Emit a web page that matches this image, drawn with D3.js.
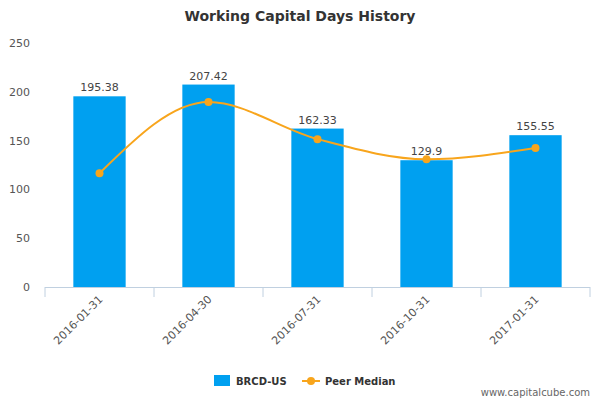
<!DOCTYPE html>
<html><head><meta charset="utf-8">
<script src="https://cdn.jsdelivr.net/npm/d3@7"></script>
<style>body{margin:0;background:#fff;font-family:"DejaVu Sans",sans-serif}</style>
</head><body>
<script>
const categories = ["2016-01-31", "2016-04-30", "2016-07-31", "2016-10-31", "2017-01-31"];
const companyValues = [195.38, 207.42, 162.33, 129.9, 155.55];
const peerMedian = [116.5, 189.5, 151.5, 131, 142.5];
const yTicks = [0, 50, 100, 150, 200, 250];

const width = 600, height = 400;
const svg = d3.select("body").append("svg").attr("width", width).attr("height", height);

const x = d3.scaleBand().domain(categories).range([45, 590]).paddingInner(0.52).paddingOuter(0.26);
const y = d3.scaleLinear().domain([0, 250]).range([287, 43]);
const cx = c => x(c) + x.bandwidth() / 2;

svg.append("text").attr("x", 300).attr("y", 21).attr("text-anchor", "middle")
  .attr("font-size", 14).attr("font-weight", "bold").attr("fill", "#333")
  .text("Working Capital Days History");

// y axis labels
svg.selectAll(".ytick").data(yTicks).enter().append("text")
  .attr("x", 30).attr("y", d => y(d) + 4).attr("text-anchor", "end")
  .attr("font-size", 11).attr("fill", "#555").text(d => d);

// bars
svg.selectAll(".bar").data(companyValues).enter().append("rect")
  .attr("x", (d, i) => x(categories[i])).attr("width", x.bandwidth())
  .attr("y", d => y(d)).attr("height", d => y(0) - y(d)).attr("fill", "#00a0f0");

svg.selectAll(".lbl").data(companyValues).enter().append("text")
  .attr("x", (d, i) => cx(categories[i])).attr("y", d => y(d) - 5)
  .attr("text-anchor", "middle").attr("font-size", 11).attr("fill", "#444").text(d => d);

// x axis
svg.append("line").attr("x1", 45).attr("x2", 590).attr("y1", 287.5).attr("y2", 287.5)
  .attr("stroke", "#c0d0e0");
const bounds = d3.range(categories.length + 1).map(i => 45 + i * x.step());
svg.selectAll(".xt").data(bounds).enter().append("line")
  .attr("x1", d => d).attr("x2", d => d).attr("y1", 287).attr("y2", 297).attr("stroke", "#c0d0e0");
svg.selectAll(".xl").data(categories).enter().append("text")
  .attr("transform", d => `translate(${cx(d) + 4},${300}) rotate(-45)`)
  .attr("text-anchor", "end").attr("font-size", 11).attr("fill", "#555").text(d => d);

// peer median line
const line = d3.line().x((d, i) => cx(categories[i])).y(d => y(d)).curve(d3.curveMonotoneX);
svg.append("path").datum(peerMedian).attr("d", line).attr("fill", "none")
  .attr("stroke", "#f8a51c").attr("stroke-width", 2);
svg.selectAll(".pt").data(peerMedian).enter().append("circle")
  .attr("cx", (d, i) => cx(categories[i])).attr("cy", d => y(d))
  .attr("r", 4).attr("fill", "#f8a51c");

// legend
svg.append("rect").attr("x", 214).attr("y", 375).attr("width", 16).attr("height", 11).attr("fill", "#00a0f0");
svg.append("text").attr("x", 236).attr("y", 385).attr("font-size", 10).attr("font-weight", "bold").attr("fill", "#333").text("BRCD-US");
svg.append("line").attr("x1", 302).attr("x2", 320).attr("y1", 381).attr("y2", 381).attr("stroke", "#f8a51c").attr("stroke-width", 2);
svg.append("circle").attr("cx", 311).attr("cy", 381).attr("r", 4).attr("fill", "#f8a51c");
svg.append("text").attr("x", 325).attr("y", 385).attr("font-size", 10).attr("font-weight", "bold").attr("fill", "#333").text("Peer Median");

svg.append("text").attr("x", 590).attr("y", 396).attr("text-anchor", "end").attr("font-size", 10)
  .attr("fill", "#666").text("www.capitalcube.com");
</script>
</body></html>
